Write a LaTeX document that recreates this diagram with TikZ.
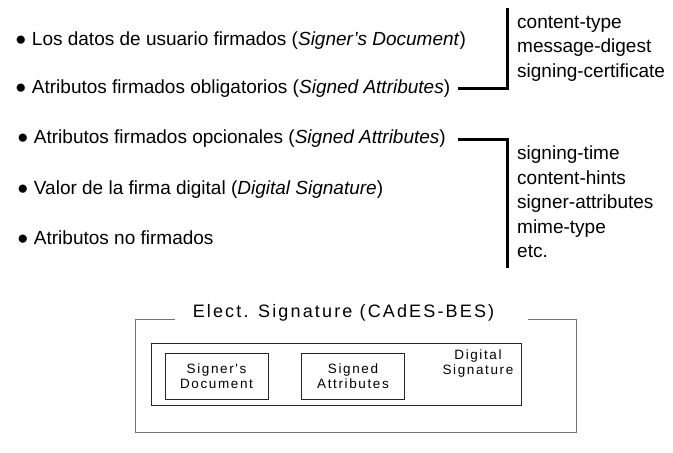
\documentclass[tikz,border=0pt]{standalone}
\usepackage{fontspec}
\setmainfont{Liberation Sans}
\newfontfamily\boxfont[LetterSpace=12]{Liberation Sans}
\usetikzlibrary{positioning}

\begin{document}
\begin{tikzpicture}[x=1pt,y=-1pt,
  item/.style={anchor=base west, inner sep=0pt, font=\fontsize{19}{23}\selectfont},
  attrs/.style={anchor=north west, inner sep=0pt, align=left, font=\fontsize{19}{24.5}\selectfont},
  bracket/.style={line width=3pt},
  frame/.style={draw=black!55, line width=0.8pt},
  part/.style={draw=black!85, line width=0.9pt, align=center, inner sep=0pt,
    minimum width=103pt, minimum height=46pt, font=\boxfont\fontsize{13.5}{15}\selectfont},
  lbl/.style={align=center, inner sep=0pt, font=\boxfont\fontsize{13.5}{15}\selectfont}]
\useasboundingbox (0,0) rectangle (673,453);

\def\xa{15}
\def\xb{17}
\def\xl{517}

% items
\node[item] (doc) at (\xa, 45) {● Los datos de usuario firmados (\textit{Signer’s Document})};
\node[item] (obl) at (\xa, 93) {● Atributos firmados obligatorios (\textit{Signed Attributes})};
\node[item] (opc) at (\xb, 143) {● Atributos firmados opcionales (\textit{Signed Attributes})};
\node[item] (sig) at (\xb, 194) {● Valor de la firma digital (\textit{Digital Signature})};
\node[item] (nof) at (\xb, 244) {● Atributos no firmados};

% attribute lists
\node[attrs] (mand) at (\xl, 16) {content-type\\message-digest\\signing-certificate};
\node[attrs] (opt) at (\xl, 146) {signing-time\\content-hints\\signer-attributes\\mime-type\\etc.};

\coordinate (m0) at (458, 88);
\coordinate (m1) at (507, 88);
\coordinate (m2) at (507, 8);
\draw[bracket] (m0) -- (m1) -- (m2);

\coordinate (o0) at (458, 139);
\coordinate (o1) at (507, 139);
\coordinate (o2) at (507, 268);
\draw[bracket] (o0) -- (o1) -- (o2);

% CAdES-BES
\node[lbl, font=\boxfont\fontsize{18}{20}\selectfont] (title) at (343.5, 313) {Elect. Signature (CAdES-BES)};
\draw[frame] (175, 319) -- (135, 319) -- (135, 432) -- (576, 432) -- (576, 319) -- (528, 319);
\node[draw=black!85, line width=0.9pt, minimum width=370pt, minimum height=62pt] (env) at (336, 374) {};
\node[part] (sd) at (216.5, 376) {Signer's\\Document};
\node[part] (sa) at (353, 376) {Signed\\Attributes};
\node[lbl] (ds) at (478, 363.5) {Digital\\Signature};

\end{tikzpicture}
\end{document}
